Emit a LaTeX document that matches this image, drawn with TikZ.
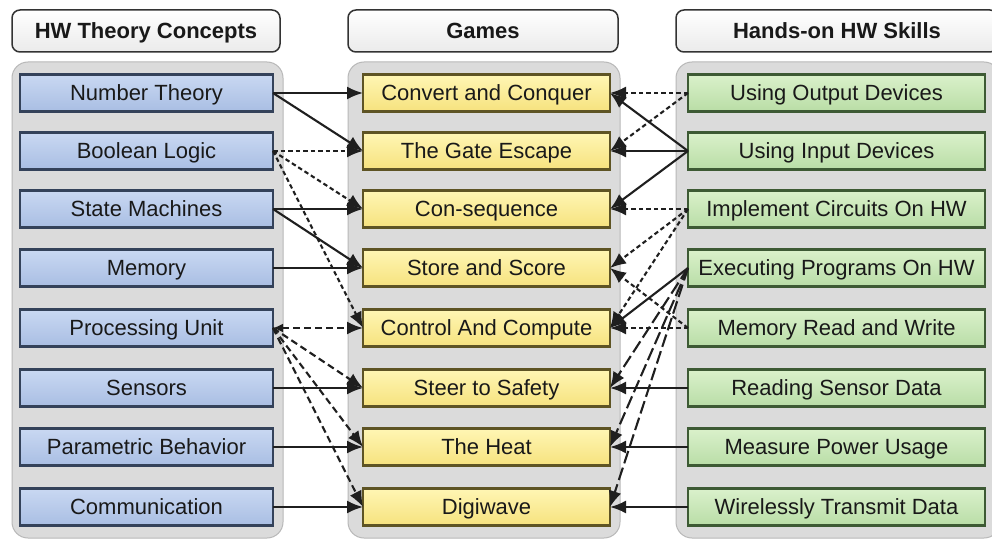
\documentclass[tikz,border=0pt]{standalone}
\usepackage{fontspec}
\setmainfont{Liberation Sans}
\usetikzlibrary{arrows.meta}
\definecolor{bluetop}{HTML}{C9D8F2}
\definecolor{bluebot}{HTML}{A9BEE3}
\definecolor{bluedark}{HTML}{34425A}
\definecolor{yeltop}{HTML}{FFF6B4}
\definecolor{yelbot}{HTML}{F6E27E}
\definecolor{yeldark}{HTML}{5E5424}
\definecolor{grntop}{HTML}{DAF1CB}
\definecolor{grnbot}{HTML}{B9DDA6}
\definecolor{grndark}{HTML}{3D5A34}
\begin{document}
\begin{tikzpicture}[x=1pt,y=-1pt,
  font=\fontsize{22}{26}\selectfont,
  hdr/.style={draw=black!80, line width=1.5pt, rounded corners=8pt, top color=white, bottom color=black!8,
    minimum width=#1, minimum height=42pt, inner sep=0pt, outer sep=0pt, text height=15.5pt, text depth=0pt,
    font=\fontsize{22}{26}\selectfont\bfseries, text=black!90},
  panel/.style={draw=black!28, fill=black!14, line width=1pt, rounded corners=16pt},
  box/.style={line width=2.4pt, minimum height=37pt, inner sep=0pt, outer sep=0pt, text=black!90,
    text height=15.5pt, text depth=0pt},
  lbox/.style={box, draw=bluedark, top color=bluetop, bottom color=bluebot, minimum width=253pt},
  mbox/.style={box, draw=yeldark, top color=yeltop, bottom color=yelbot, minimum width=247pt},
  rbox/.style={box, draw=grndark, top color=grntop, bottom color=grnbot, minimum width=297pt},
  arr/.style={-{Latex[length=16pt,width=13pt]}, line width=2.1pt, draw=black!88},
  dsh/.style={arr, dash pattern=on 4.5pt off 3pt},
  mdsh/.style={arr, dash pattern=on 7pt off 4pt},
  ldsh/.style={arr, dash pattern=on 13pt off 4.5pt},
]
\useasboundingbox (0,0) rectangle (992,540);
\clip (0,0) rectangle (992,540);
\fill[white] (0,0) rectangle (992,540);

% headers
\node[hdr=268pt] (h1) at (146,31) {HW Theory Concepts};
\node[hdr=270pt] (h2) at (483,31) {Games};
\node[hdr=322pt] (h3) at (837,31) {Hands-on HW Skills};

% panels
\path[panel] (12,62) rectangle (283,538);
\path[panel] (348,62) rectangle (620,538);
\path[panel] (676,62) rectangle (1000,538);

% left column
\node[lbox] (nt)  at (146.5,93)  {Number Theory};
\node[lbox] (bl)  at (146.5,151) {Boolean Logic};
\node[lbox] (sm)  at (146.5,209) {State Machines};
\node[lbox] (mem) at (146.5,268) {Memory};
\node[lbox] (pu)  at (146.5,328) {Processing Unit};
\node[lbox] (sen) at (146.5,388) {Sensors};
\node[lbox] (pb)  at (146.5,447) {Parametric Behavior};
\node[lbox] (com) at (146.5,507) {Communication};

% middle column
\node[mbox] (cc)   at (486.5,93)  {Convert and Conquer};
\node[mbox] (ge)   at (486.5,151) {The Gate Escape};
\node[mbox] (cs)   at (486.5,209) {Con-sequence};
\node[mbox] (ss)   at (486.5,268) {Store and Score};
\node[mbox] (cac)  at (486.5,328) {Control And Compute};
\node[mbox] (sts)  at (486.5,388) {Steer to Safety};
\node[mbox] (heat) at (486.5,447) {The Heat};
\node[mbox] (dw)   at (486.5,507) {Digiwave};

% right column
\node[rbox] (uod) at (836.5,93)  {Using Output Devices};
\node[rbox] (uid) at (836.5,151) {Using Input Devices};
\node[rbox] (ic)  at (836.5,209) {Implement Circuits On HW};
\node[rbox] (ep)  at (836.5,268) {Executing Programs On HW};
\node[rbox] (mrw) at (836.5,328) {Memory Read and Write};
\node[rbox] (rsd) at (836.5,388) {Reading Sensor Data};
\node[rbox] (mpu) at (836.5,447) {Measure Power Usage};
\node[rbox] (wtd) at (836.5,507) {Wirelessly Transmit Data};

% left connectors
\draw[arr] (nt.east) -- (cc.west);
\draw[arr] (nt.east) -- (ge.west);
\draw[dsh] (bl.east) -- (ge.west);
\draw[dsh] (bl.east) -- (cs.west);
\draw[dsh] (bl.east) -- (cac.west);
\draw[arr] (sm.east) -- (cs.west);
\draw[arr] (sm.east) -- (ss.west);
\draw[arr] (mem.east) -- (ss.west);
\draw[mdsh,{Latex[length=10pt,width=9pt]}-{Latex[length=16pt,width=13pt]}] (pu.east) -- (cac.west);
\draw[mdsh] (pu.east) -- (sts.west);
\draw[mdsh] (pu.east) -- (heat.west);
\draw[mdsh] (pu.east) -- (dw.west);
\draw[arr] (sen.east) -- (sts.west);
\draw[arr] (pb.east) -- (heat.west);
\draw[arr] (com.east) -- (dw.west);

% right connectors
\draw[dsh] (uod.west) -- (cc.east);
\draw[dsh] (uod.west) -- (ge.east);
\draw[arr] (uid.west) -- (cc.east);
\draw[arr] (uid.west) -- (ge.east);
\draw[arr] (uid.west) -- (cs.east);
\draw[dsh] (ic.west) -- (cs.east);
\draw[dsh] (ic.west) -- (ss.east);
\draw[dsh] (ic.west) -- (cac.east);
\draw[arr] (ep.west) -- (cac.east);
\draw[ldsh] (ep.west) -- (sts.east);
\draw[ldsh] (ep.west) -- (heat.east);
\draw[ldsh] (ep.west) -- (dw.east);
\draw[dsh] (mrw.west) -- (ss.east);
\draw[dsh] (mrw.west) -- (cac.east);
\draw[arr] (rsd.west) -- (sts.east);
\draw[arr] (mpu.west) -- (heat.east);
\draw[arr] (wtd.west) -- (dw.east);
\end{tikzpicture}
\end{document}
